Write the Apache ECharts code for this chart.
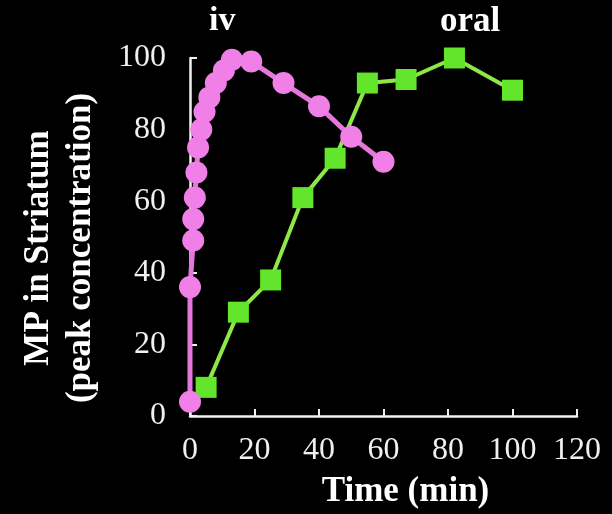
<!DOCTYPE html>
<html><head><meta charset="utf-8">
<script src="https://cdn.jsdelivr.net/npm/echarts@6/dist/echarts.min.js"></script>
<style>html,body{margin:0;padding:0;background:#000;}#c{width:612px;height:514px;}</style>
</head><body><div id="c"></div>
<script>
const ivTime = [0, 0, 1, 1, 1.5, 2, 2.5, 3.5, 4.5, 6, 8, 10.5, 13, 19, 29, 40, 50, 60];
const ivValue = [4, 36, 49, 55, 61, 68, 75, 80, 85, 89, 93, 96.5, 99.5, 99, 93, 86.5, 78, 71];
const oralTime = [5, 15, 25, 35, 45, 55, 67, 82, 100];
const oralValue = [8, 29, 38, 61, 72, 93, 94, 100, 91];
const xTicks = [0, 20, 40, 60, 80, 100, 120];
const yTicks = [0, 20, 40, 60, 80, 100];

const font = '"Liberation Serif", "Times New Roman", serif';
const chart = echarts.init(document.getElementById('c'));
chart.setOption({
  backgroundColor: '#000',
  animation: false,
  grid: {left: 190, right: 35, top: 58, bottom: 96},
  graphic: [
    {type: 'text', left: 209, top: 4, style: {text: 'iv', fill: '#fff', font: 'bold 34px ' + font}},
    {type: 'text', left: 440, top: 4, style: {text: 'oral', fill: '#fff', font: 'bold 35px ' + font}}
  ],
  xAxis: {
    type: 'value', min: xTicks[0], max: xTicks[xTicks.length - 1], interval: 20,
    name: 'Time (min)', nameLocation: 'middle', nameGap: 58,
    nameTextStyle: {color: '#fff', fontFamily: font, fontWeight: 'bold', fontSize: 35, padding: [0, 0, 0, 44]},
    axisLine: {lineStyle: {color: '#f0f0f0', width: 2.5}},
    axisTick: {inside: true, length: 7, lineStyle: {color: '#f0f0f0', width: 2}},
    axisLabel: {color: '#f0f0f0', fontFamily: font, fontSize: 32, margin: 19},
    splitLine: {show: false}
  },
  yAxis: {
    type: 'value', min: yTicks[0], max: yTicks[yTicks.length - 1], interval: 20,
    name: 'MP in Striatum\n(peak concentration)', nameLocation: 'middle', nameGap: 88, nameRotate: 90,
    nameTextStyle: {color: '#fff', fontFamily: font, fontWeight: 'bold', fontSize: 35, lineHeight: 42, padding: [0, 22, 0, 0]},
    axisLine: {show: true, lineStyle: {color: '#f0f0f0', width: 2.5}},
    axisTick: {show: true, inside: true, length: 7, lineStyle: {color: '#f0f0f0', width: 2}},
    axisLabel: {color: '#f0f0f0', fontFamily: font, fontSize: 32, margin: 24},
    splitLine: {show: false}
  },
  series: [
    {
      name: 'oral', type: 'line', data: oralTime.map((t, i) => [t, oralValue[i]]),
      symbol: 'rect', symbolSize: 21, itemStyle: {color: '#62e52a'},
      lineStyle: {color: '#8ee84a', width: 4}, z: 2
    },
    {
      name: 'iv', type: 'line', data: ivTime.map((t, i) => [t, ivValue[i]]),
      symbol: 'circle', symbolSize: 22, itemStyle: {color: '#f07fe8'},
      lineStyle: {color: '#e477dc', width: 5}, z: 3
    }
  ]
});
</script></body></html>
